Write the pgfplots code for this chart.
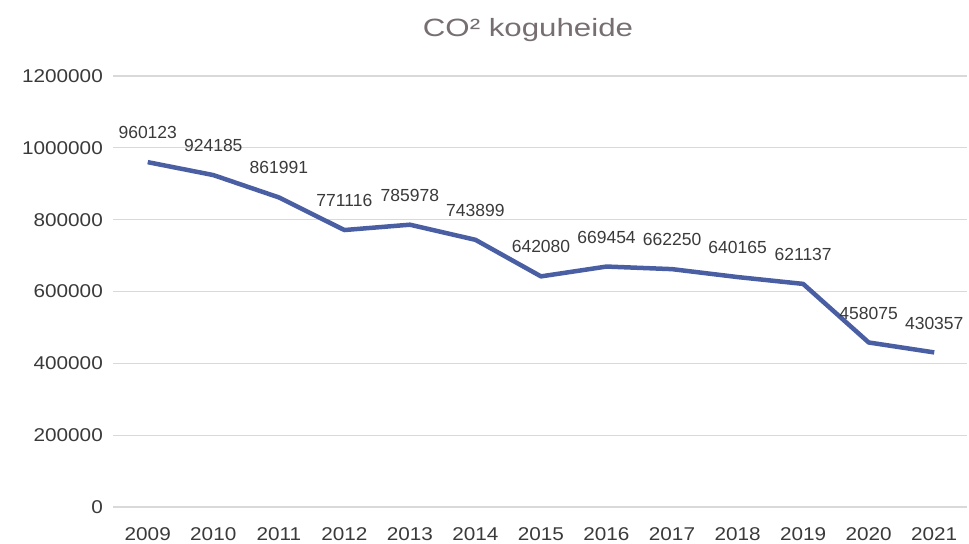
\documentclass[border=0pt]{standalone}
\usepackage{pgfplots}
\pgfplotsset{compat=1.18}
\usepackage{fontspec}
\setmainfont{Liberation Sans}
\newfontfamily\titlefont[FakeStretch=1.25]{Liberation Sans}
\newfontfamily\numfont[FakeStretch=1.12]{Liberation Sans}
\definecolor{linecol}{HTML}{4A5FA3}
\definecolor{gridcol}{HTML}{D9D9D9}
\definecolor{titlecol}{HTML}{766E71}
\definecolor{tickcol}{HTML}{3A3A3A}
\begin{document}
\begin{tikzpicture}
\path[use as bounding box] (0,0) rectangle (969bp,544bp);
\begin{axis}[
  at={(113bp,37bp)}, anchor=south west,
  scale only axis, width=854bp, height=431bp,
  xmin=2008.47, xmax=2021.5,
  ymin=0, ymax=1200000,
  ytick={0,200000,...,1200000},
  xtick={2009,...,2021},
  scaled y ticks=false,
  /pgf/number format/assume math mode=true,
  /pgf/number format/1000 sep={},
  yticklabel style={/pgf/number format/fixed, inner sep=0pt, xshift=-10bp, text=tickcol, font=\numfont\fontsize{18.5bp}{22bp}\selectfont},
  xticklabel style={inner sep=0pt, yshift=-20bp, text=tickcol, font=\numfont\fontsize{18.5bp}{22bp}\selectfont},
  axis line style={draw=none},
  major tick length=0pt,
  ymajorgrids,
  grid style={gridcol, line width=1.3bp},
  clip=false,
  nodes near coords,
  point meta=explicit symbolic,
  every node near coord/.append style={inner sep=0pt, yshift=21bp, text=tickcol, font=\fontsize{17.5bp}{20bp}\selectfont},
]
\addplot[linecol, line width=4.5bp, line join=round] table[meta=label] {
x y label
2009 960123 960123
2010 924185 924185
2011 861991 861991
2012 771116 771116
2013 785978 785978
2014 743899 743899
2015 642080 642080
2016 669454 669454
2017 662250 662250
2018 640165 640165
2019 621137 621137
2020 458075 458075
2021 430357 430357
};
\end{axis}
\node[text=titlecol, font=\titlefont\fontsize{25bp}{30bp}\selectfont, inner sep=0pt] at (528bp,514bp) {CO² koguheide};
\end{tikzpicture}
\end{document}
